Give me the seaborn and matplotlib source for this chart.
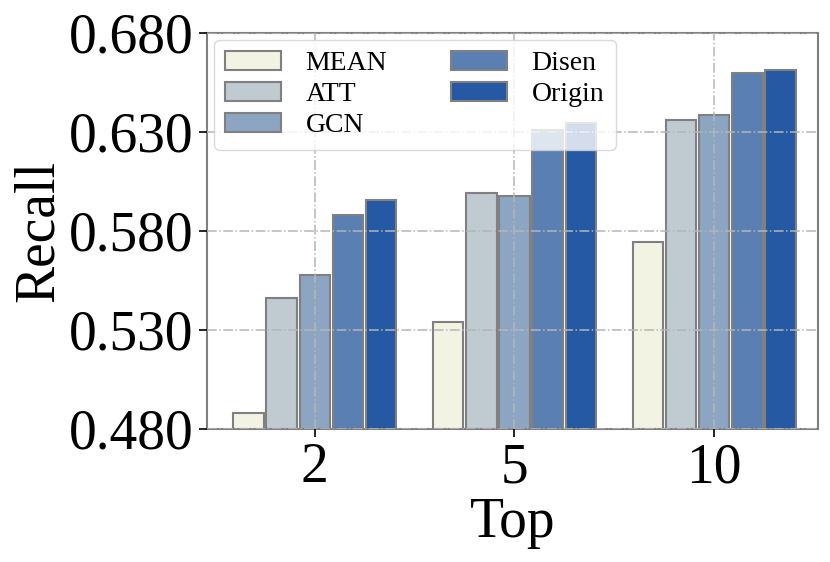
import matplotlib
matplotlib.use('Agg')
import matplotlib.pyplot as plt
import seaborn as sns
import pandas as pd

tops = ['2', '5', '10']
methods = ['MEAN', 'ATT', 'GCN', 'Disen', 'Origin']
mean_vals = [0.488, 0.534, 0.5745]
att_vals = [0.546, 0.599, 0.636]
gcn_vals = [0.558, 0.5975, 0.6387]
disen_vals = [0.588, 0.631, 0.660]
origin_vals = [0.5955, 0.6345, 0.6615]
colors = ['#f2f3e3', '#bfcbd1', '#8ca5c2', '#5a80b3', '#2659a3']

rows = []
for m, vals in zip(methods, [mean_vals, att_vals, gcn_vals, disen_vals, origin_vals]):
    for t, v in zip(tops, vals):
        rows.append({'Top': t, 'Method': m, 'Recall': v})
df = pd.DataFrame(rows)

sns.set_style('white')
plt.rcParams['font.family'] = ['Liberation Serif', 'DejaVu Serif']
plt.rcParams['text.color'] = 'black'
plt.rcParams['axes.labelcolor'] = 'black'
plt.rcParams['xtick.color'] = 'black'
plt.rcParams['ytick.color'] = 'black'

fig = plt.figure(figsize=(8.3, 5.62), dpi=100)
ax = fig.add_axes([0.2494, 0.2367, 0.7361, 0.7046])

sns.barplot(df, x='Top', y='Recall', hue='Method', order=tops, hue_order=methods,
            palette=colors, edgecolor='#808080', linewidth=1.5, width=0.83,
            gap=0.08, saturation=1, ax=ax)

ax.set_ylim(0.48, 0.68)
ax.set_xlim(-0.54, 2.52)
ax.set_yticks([0.48, 0.53, 0.58, 0.63, 0.68])
ax.set_yticklabels(['0.480', '0.530', '0.580', '0.630', '0.680'])
ax.tick_params(axis='both', labelsize=40, length=6, width=1.2,
               direction='out', left=True, bottom=True)
ax.set_xlabel('Top', fontsize=40, labelpad=2)
ax.set_ylabel('Recall', fontsize=40, labelpad=3)

ax.set_axisbelow(False)
ax.grid(True, linestyle='-.', color='#b5b5b5', linewidth=1.1)
for s in ax.spines.values():
    s.set_color('#808080')
    s.set_linewidth(1.5)

ax.legend(loc='upper left', ncol=2, fontsize=20, frameon=True, framealpha=0.8,
          edgecolor='#d0d0d0', labelspacing=0.2, handletextpad=0.9,
          columnspacing=2.3, borderaxespad=0.25, title=None)

fig.savefig('out.png', dpi=100)
